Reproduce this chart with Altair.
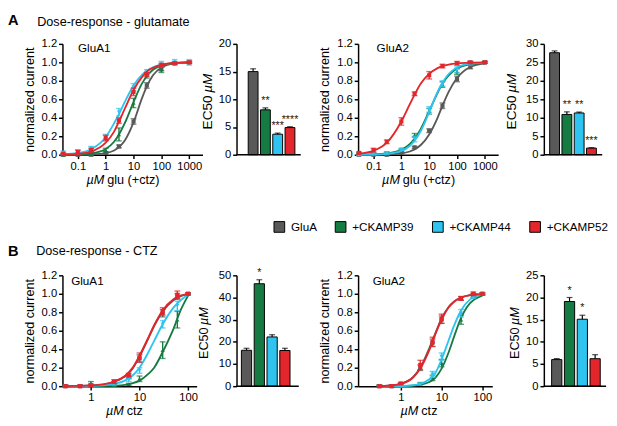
import altair as alt
import pandas as pd

FONT = "Liberation Sans"
SERIES = ["GluA", "+CKAMP39", "+CKAMP44", "+CKAMP52"]
COLORS = ["#595959", "#167a43", "#2ec4ef", "#e3262b"]
SHAPES = ["square", "triangle-up", "triangle-down", "square"]

# ---------------- Panel A: dose-response glutamate ----------------
A_CONC = [0.03, 0.1, 0.3, 1, 3, 10, 30, 100, 300, 1000]
A_TICKS = [0.1, 1, 10, 100, 1000]
A_FIT_X = [0.03, 0.1, 0.3, 1, 2, 3, 5, 10, 20, 30, 50, 100, 300, 1000]

A1_MEAN = [
    [0.0, 0.0, 0.0, 0.02, 0.09, 0.36, 0.75, 0.93, 0.99, 1.0],
    [0.0, 0.01, 0.02, 0.05, 0.22, 0.56, 0.86, 0.92, 0.99, 1.0],
    [0.02, 0.03, 0.07, 0.19, 0.46, 0.73, 0.90, 0.98, 1.0, 1.0],
    [0.01, 0.03, 0.05, 0.18, 0.37, 0.68, 0.87, 0.97, 0.99, 1.0],
]
A1_SEM = [
    [0.01, 0.01, 0.01, 0.01, 0.015, 0.03, 0.03, 0.02, 0.01, 0.01],
    [0.01, 0.01, 0.01, 0.02, 0.07, 0.05, 0.03, 0.03, 0.01, 0.01],
    [0.02, 0.02, 0.02, 0.03, 0.04, 0.04, 0.02, 0.03, 0.03, 0.03],
    [0.01, 0.02, 0.02, 0.03, 0.03, 0.04, 0.02, 0.02, 0.01, 0.01],
]
A1_FIT = [
    [0.0, 0.0, 0.003, 0.017, 0.046, 0.082, 0.16, 0.35, 0.61, 0.74, 0.86, 0.945, 0.99, 1.0],
    [0.001, 0.003, 0.014, 0.063, 0.14, 0.22, 0.35, 0.57, 0.77, 0.85, 0.92, 0.964, 0.991, 0.998],
    [0.005, 0.019, 0.06, 0.19, 0.34, 0.44, 0.58, 0.75, 0.865, 0.91, 0.946, 0.974, 0.992, 0.998],
    [0.002, 0.009, 0.034, 0.13, 0.25, 0.36, 0.506, 0.70, 0.84, 0.90, 0.94, 0.974, 0.993, 0.998],
]
A2_MEAN = [
    [0.0, 0.0, 0.0, 0.02, 0.08, 0.26, 0.53, 0.82, 0.95, 1.0],
    [0.01, 0.01, 0.02, 0.05, 0.21, 0.47, 0.76, 0.90, 0.99, 1.0],
    [0.0, 0.01, 0.02, 0.06, 0.17, 0.49, 0.77, 0.92, 0.99, 1.0],
    [0.02, 0.05, 0.14, 0.36, 0.66, 0.86, 0.96, 0.99, 1.0, 1.0],
]
A2_SEM = [
    [0.01, 0.01, 0.01, 0.01, 0.01, 0.02, 0.03, 0.03, 0.02, 0.01],
    [0.01, 0.01, 0.01, 0.01, 0.02, 0.03, 0.03, 0.03, 0.02, 0.01],
    [0.01, 0.01, 0.01, 0.01, 0.03, 0.03, 0.03, 0.03, 0.02, 0.01],
    [0.01, 0.02, 0.02, 0.04, 0.02, 0.04, 0.02, 0.02, 0.01, 0.01],
]
A2_FIT = [
    [0.0, 0.001, 0.004, 0.015, 0.035, 0.058, 0.105, 0.22, 0.40, 0.53, 0.68, 0.83, 0.95, 0.99],
    [0.001, 0.0035, 0.013, 0.053, 0.114, 0.174, 0.28, 0.47, 0.67, 0.77, 0.86, 0.934, 0.98, 0.996],
    [0.0005, 0.002, 0.009, 0.041, 0.095, 0.151, 0.257, 0.46, 0.68, 0.78, 0.874, 0.944, 0.986, 0.997],
    [0.012, 0.042, 0.13, 0.36, 0.545, 0.65, 0.77, 0.875, 0.938, 0.959, 0.976, 0.989, 0.997, 0.999],
]

# ---------------- Panel B: dose-response CTZ ----------------
B_CONC = [0.3, 0.6, 1, 3, 6, 10, 30, 60, 100]
B_TICKS = [1, 10, 100]
B_FIT_X = [0.3, 0.5, 1, 2, 3, 5, 7, 10, 15, 20, 30, 50, 70, 100]

B1_MEAN = [
    [0.0, 0.0, 0.01, 0.04, 0.10, 0.30, 0.79, 0.97, 1.0],
    [0.0, 0.0, 0.03, 0.01, 0.02, 0.08, 0.39, 0.72, 1.0],
    [0.0, 0.0, 0.01, 0.02, 0.07, 0.17, 0.67, 0.87, 1.0],
    [0.0, 0.0, 0.01, 0.05, 0.12, 0.31, 0.81, 0.99, 1.0],
]
B1_SEM = [
    [0.01, 0.01, 0.01, 0.01, 0.02, 0.04, 0.04, 0.03, 0.01],
    [0.01, 0.01, 0.02, 0.01, 0.01, 0.03, 0.09, 0.09, 0.01],
    [0.01, 0.01, 0.01, 0.01, 0.02, 0.03, 0.04, 0.05, 0.01],
    [0.01, 0.01, 0.01, 0.02, 0.02, 0.05, 0.04, 0.04, 0.01],
]
B1_FIT = [
    [0.0, 0.002, 0.007, 0.023, 0.048, 0.105, 0.18, 0.32, 0.51, 0.65, 0.81, 0.93, 0.975, 1.0],
    [0.0, 0.0, 0.001, 0.003, 0.006, 0.015, 0.03, 0.06, 0.13, 0.20, 0.37, 0.62, 0.82, 0.98],
    [0.0, 0.001, 0.004, 0.012, 0.025, 0.06, 0.11, 0.20, 0.36, 0.49, 0.67, 0.85, 0.93, 0.99],
    [0.0, 0.003, 0.008, 0.025, 0.05, 0.11, 0.19, 0.33, 0.52, 0.66, 0.82, 0.94, 0.98, 1.0],
]
B2_MEAN = [
    [0.0, 0.0, 0.02, 0.20, 0.47, 0.72, 0.95, 0.99, 1.0],
    [0.0, 0.0, 0.0, 0.03, 0.09, 0.25, 0.72, 0.98, 1.0],
    [0.0, 0.0, 0.0, 0.02, 0.13, 0.32, 0.79, 0.97, 1.0],
    [0.0, 0.0, 0.03, 0.23, 0.48, 0.73, 0.95, 1.0, 1.0],
]
B2_SEM = [
    [0.01, 0.01, 0.01, 0.03, 0.04, 0.04, 0.02, 0.01, 0.01],
    [0.01, 0.01, 0.01, 0.01, 0.03, 0.04, 0.05, 0.02, 0.01],
    [0.01, 0.01, 0.01, 0.01, 0.03, 0.04, 0.04, 0.02, 0.01],
    [0.01, 0.01, 0.01, 0.05, 0.05, 0.05, 0.02, 0.02, 0.01],
]
B2_FIT = [
    [0.002, 0.006, 0.026, 0.098, 0.20, 0.41, 0.57, 0.73, 0.86, 0.915, 0.96, 0.986, 0.993, 0.997],
    [0.0, 0.0, 0.001, 0.006, 0.014, 0.045, 0.09, 0.19, 0.37, 0.53, 0.74, 0.90, 0.95, 0.98],
    [0.0, 0.0, 0.002, 0.01, 0.025, 0.075, 0.14, 0.29, 0.50, 0.65, 0.82, 0.94, 0.975, 0.99],
    [0.002, 0.005, 0.025, 0.094, 0.19, 0.39, 0.56, 0.72, 0.854, 0.912, 0.959, 0.985, 0.992, 0.996],
]

# ---------------- EC50 bar charts ----------------
A1_EC50 = [15.0, 8.1, 3.7, 4.9]
A1_EC50_SEM = [0.5, 0.35, 0.2, 0.15]
A1_STARS = ["", "**", "***", "****"]
A2_EC50 = [27.6, 10.9, 11.3, 1.8]
A2_EC50_SEM = [0.5, 0.7, 0.25, 0.1]
A2_STARS = ["", "**", "**", "***"]
B1_EC50 = [16.2, 46.2, 22.2, 16.1]
B1_EC50_SEM = [0.9, 1.8, 1.0, 1.0]
B1_STARS = ["", "*", "", ""]
B2_EC50 = [6.0, 19.1, 15.1, 6.2]
B2_EC50_SEM = [0.2, 0.9, 0.9, 0.9]
B2_STARS = ["", "*", "*", ""]

H = 114
TICK_FS = 11.5


def one():
    return pd.DataFrame({"k": [1]})


def label(t, x, y, size=13, align="left", baseline="alphabetic", angle=0,
          italic=False, bold=False):
    return alt.Chart(one()).mark_text(
        align=align, baseline=baseline, fontSize=size, angle=angle,
        fontStyle="italic" if italic else "normal",
        fontWeight="bold" if bold else "normal", color="black", font=FONT,
    ).encode(x=alt.value(x), y=alt.value(y), text=alt.value(t))


def long_points(conc, means, sems):
    rows = []
    for s, m_row, e_row in zip(SERIES, means, sems):
        for c, m, e in zip(conc, m_row, e_row):
            rows.append({"series": s, "conc": c, "mean": m, "lo": m - e, "hi": m + e})
    return pd.DataFrame(rows)


def long_fit(xs, fits):
    rows = []
    for s, row in zip(SERIES, fits):
        for c, v in zip(xs, row):
            rows.append({"series": s, "conc": c, "mean": v})
    return pd.DataFrame(rows)


def curve_panel(conc, means, sems, fit_x, fits, domain, ticks, plot_w, width,
                name, name_x, name_y, xt_split, xt_rest, extras):
    xs = alt.Scale(type="log", domain=domain, range=[0, plot_w])
    ys = alt.Scale(domain=[0, 1.2])
    xax = alt.Axis(values=ticks, format="~g", title=None, grid=False,
                   labelFontSize=TICK_FS, tickSize=4, labelPadding=2,
                   labelFlush=False, labelOverlap=False)
    yax = alt.Axis(values=[0, 0.2, 0.4, 0.6, 0.8, 1.0, 1.2], format=".1f",
                   grid=False, labelFontSize=TICK_FS, tickSize=4, labelPadding=2,
                   title="normalized current", titleX=-34, titleY=H / 2,
                   titleAngle=270, titleAlign="center", titleBaseline="middle",
                   titleFontSize=13, titleFontWeight="normal")
    pts = long_points(conc, means, sems)
    fit = long_fit(fit_x, fits)
    X = alt.X("conc:Q", scale=xs, axis=xax)
    layers = []
    for s, col, shp in zip(SERIES, COLORS, SHAPES):
        f = fit[fit.series == s]
        p = pts[pts.series == s]
        layers.append(alt.Chart(f).mark_line(color=col, strokeWidth=1.9,
                                             interpolate="monotone").encode(
            x=X, y=alt.Y("mean:Q", scale=ys, axis=yax)))
        layers.append(alt.Chart(p).mark_rule(color=col, strokeWidth=1.4).encode(
            x=X, y=alt.Y("lo:Q", scale=ys, axis=yax), y2="hi:Q"))
        for fld in ["lo", "hi"]:
            layers.append(alt.Chart(p).mark_tick(color=col, orient="horizontal",
                                                 size=6, thickness=1.4).encode(
                x=X, y=alt.Y(fld + ":Q", scale=ys, axis=yax)))
        layers.append(alt.Chart(p).mark_point(color=col, shape=shp, filled=True,
                                              size=18, opacity=1).encode(
            x=X, y=alt.Y("mean:Q", scale=ys, axis=yax)))
    layers.append(label(name, name_x, name_y, size=12))
    layers.append(label("\u00b5M", xt_split, H + 30, italic=True, align="right"))
    layers.append(label(xt_rest, xt_split + 3, H + 30, align="left"))
    layers.extend(extras)
    return alt.layer(*layers).properties(width=width, height=H)


def bar_panel(vals, sems, stars, ymax, step, bar_range, plot_w, width,
              title_x, title_size, title_bottom, legend=None):
    df = pd.DataFrame({"series": SERIES, "mean": vals,
                       "hi": [v + e for v, e in zip(vals, sems)], "star": stars})
    xs = alt.Scale(domain=SERIES, range=bar_range, paddingInner=0.2, paddingOuter=0)
    X = alt.X("series:N", scale=xs, axis=None)
    ys = alt.Scale(domain=[0, ymax])
    yax = alt.Axis(values=list(range(0, ymax + 1, step)), format="d", title=None,
                   grid=False, labelFontSize=TICK_FS, tickSize=4, labelPadding=2)
    bars = alt.Chart(df).mark_bar(stroke="black", strokeWidth=1).encode(
        x=X, y=alt.Y("mean:Q", scale=ys, axis=yax),
        color=alt.Color("series:N", scale=alt.Scale(domain=SERIES, range=COLORS),
                        legend=legend))
    err = alt.Chart(df).mark_rule(color="black", strokeWidth=1.2).encode(
        x=X, y=alt.Y("mean:Q", scale=ys, axis=yax), y2="hi:Q")
    cap = alt.Chart(df).mark_tick(color="black", orient="horizontal", size=6,
                                  thickness=1.2).encode(
        x=X, y=alt.Y("hi:Q", scale=ys, axis=yax))
    st = alt.Chart(df).mark_text(color="#222222", fontSize=11, dy=-4,
                                 baseline="alphabetic", font=FONT).encode(
        x=X, y=alt.Y("hi:Q", scale=ys, axis=yax), text="star:N")
    base = alt.Chart(one()).mark_rule(color="black", strokeWidth=1.5).encode(
        x=alt.value(0), x2=alt.value(plot_w), y=alt.value(H))
    ec_len = 2.39 * title_size
    t1 = label("EC50", title_x, title_bottom, size=title_size, angle=270,
               baseline="middle")
    t2 = label("\u00b5M", title_x, title_bottom - ec_len - 0.3 * title_size,
               size=title_size, angle=270, baseline="middle", italic=True)
    return alt.layer(bars, err, cap, st, base, t1, t2).properties(width=width, height=H)


A1 = curve_panel(A_CONC, A1_MEAN, A1_SEM, A_FIT_X, A1_FIT, [0.028, 3000], A_TICKS,
                 144, 144, "GluA1", 16, 8, 43, "glu (+ctz)",
                 [label("A", -56, -31, size=15, bold=True, baseline="top"),
                  label("Dose-response - glutamate", -26, -18, size=13)])
A1B = bar_panel(A1_EC50, A1_EC50_SEM, A1_STARS, 20, 5, [12, 60], 66, 94,
                -29, 14, 88)
A2 = curve_panel(A_CONC, A2_MEAN, A2_SEM, A_FIT_X, A2_FIT, [0.028, 3000], A_TICKS,
                 144, 160, "GluA2", 19, 8, 43, "glu (+ctz)", [])
A2B = bar_panel(A2_EC50, A2_EC50_SEM, A2_STARS, 30, 5, [6, 54], 60, 60,
                -33, 14, 88)

B1 = curve_panel(B_CONC, B1_MEAN, B1_SEM, B_FIT_X, B1_FIT, [0.26, 150], B_TICKS,
                 138, 148, "GluA1", 9, 10, 63, "ctz",
                 [label("B", -56, -32, size=15, bold=True, baseline="top"),
                  label("Dose-response - CTZ", -27, -21, size=13)])
LEG = alt.Legend(orient="none", legendX=38, legendY=-56, direction="horizontal",
                 title=None, symbolType="square", symbolSize=121,
                 symbolStrokeColor="black", symbolStrokeWidth=1, labelFontSize=12,
                 labelOffset=6, columnPadding=16, padding=0, labelColor="black",
                 labelFont=FONT)
B1B = bar_panel(B1_EC50, B1_EC50_SEM, B1_STARS, 50, 10, [5, 55], 64, 91,
                -33, 13, 86, legend=LEG)
B2 = curve_panel(B_CONC, B2_MEAN, B2_SEM, B_FIT_X, B2_FIT, [0.09, 175], B_TICKS,
                 138, 153, "GluA2", 15, 10, 62, "ctz", [])
B2B = bar_panel(B2_EC50, B2_EC50_SEM, B2_STARS, 25, 5, [8, 58], 64, 64,
                -30, 13, 86)

chart = alt.concat(
    A1, A1B, A2, A2B, B1, B1B, B2, B2B,
    columns=4, spacing={"row": 124, "column": 31}, bounds="flush", align="none",
).resolve_scale(color="independent").properties(padding=0).configure(
    font=FONT
).configure_axis(
    domainColor="black", tickColor="black", labelColor="black", titleColor="black",
    labelFont=FONT, titleFont=FONT, domainWidth=1.5, tickWidth=1.5, grid=False,
).configure_view(stroke=None)

chart.save("out.html", embed_options={"renderer": "svg", "actions": False})
